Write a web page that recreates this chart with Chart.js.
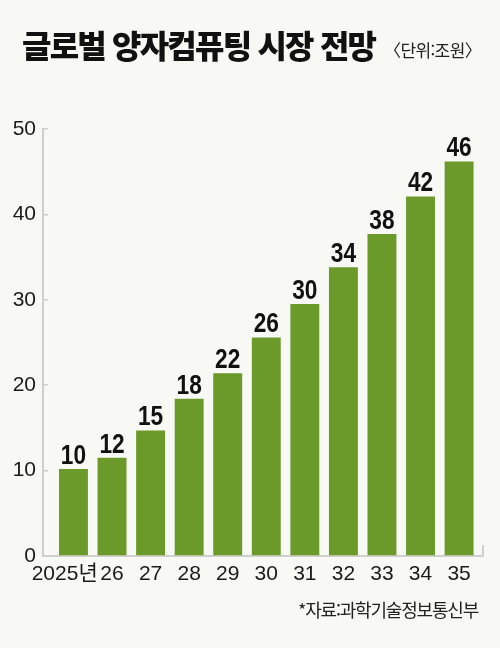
<!DOCTYPE html>
<html lang="ko">
<head>
<meta charset="utf-8">
<script src="https://cdn.jsdelivr.net/npm/chart.js@4"></script>
<style>
  html, body { margin: 0; padding: 0; background: #f8f8f4; }
  #wrap { position: relative; width: 500px; height: 648px; overflow: hidden; }
  #chart { position: absolute; left: 0; top: 0; }
  .title {
    position: absolute; left: 22px; top: 28px;
    font-family: 'Noto Sans CJK KR', sans-serif; font-weight: 900;
    font-size: 32px; line-height: 1; letter-spacing: -1.8px; color: #111;
  }
  .unit {
    position: absolute; left: 384px; top: 41px;
    font-family: 'Noto Sans CJK KR', sans-serif; font-weight: 400;
    font-size: 17px; line-height: 1; letter-spacing: -0.6px; color: #222;
  }
  .source {
    position: absolute; right: 22px; top: 600px;
    font-family: 'Noto Sans CJK KR', sans-serif; font-weight: 400;
    font-size: 18px; line-height: 1; letter-spacing: -1.2px; color: #222;
  }
</style>
</head>
<body>
<div id="wrap">
  <canvas id="chart" width="500" height="648"></canvas>
  <div class="title">글로벌 양자컴퓨팅 시장 전망</div>
  <div class="unit">〈단위:조원〉</div>
  <div class="source">*자료:과학기술정보통신부</div>
</div>
<script>
const years = ['2025년', '26', '27', '28', '29', '30', '31', '32', '33', '34', '35'];
const marketSize = [10.2, 11.5, 14.7, 18.4, 21.4, 25.6, 29.5, 33.8, 37.7, 42.1, 46.2];
const valueLabels = ['10', '12', '15', '18', '22', '26', '30', '34', '38', '42', '46'];
const yTicks = [0, 10, 20, 30, 40, 50];

const tickFont = "'Liberation Sans', 'Noto Sans CJK KR', sans-serif";
const axisGray = '#cfcfcb';

// numbers above bars (squeezed a bit, like the condensed face of the original)
// + the little end tick on the x axis
const barLabels = {
  id: 'barLabels',
  afterDatasetsDraw(chart) {
    const ctx = chart.ctx;
    const meta = chart.getDatasetMeta(0);
    const squeeze = 0.84;
    ctx.save();
    ctx.fillStyle = '#111';
    ctx.font = "bold 27px 'Liberation Sans', sans-serif";
    ctx.textAlign = 'center';
    ctx.textBaseline = 'alphabetic';
    meta.data.forEach((bar, i) => {
      ctx.save();
      ctx.translate(bar.x, bar.y - 5);
      ctx.scale(squeeze, 1);
      ctx.fillText(valueLabels[i], 0, 0);
      ctx.restore();
    });
    ctx.restore();
  },
  afterDraw(chart) {
    const { ctx, chartArea } = chart;
    ctx.save();
    ctx.strokeStyle = axisGray;
    ctx.lineWidth = 2;
    ctx.beginPath();
    ctx.moveTo(chartArea.right, chartArea.bottom);
    ctx.lineTo(chartArea.right, chartArea.bottom - 11);
    ctx.stroke();
    ctx.restore();
  }
};

const data = {
  datasets: [{
    label: '시장 규모',
    data: marketSize.map((v, i) => ({ x: i, y: v })),
    backgroundColor: '#6b9a2b',
    borderWidth: 0,
    barPercentage: 0.75,
    categoryPercentage: 1
  }]
};

const config = {
  type: 'bar',
  data: data,
  options: {
    responsive: false,
    animation: false,
    layout: { padding: { top: 129, right: 17, left: 0, bottom: 0 } },
    plugins: {
      legend: { display: false },
      tooltip: { enabled: false }
    },
    scales: {
      x: {
        type: 'linear',
        offset: false,
        min: -0.79,
        max: 10.62,
        afterBuildTicks: s => { s.ticks = years.map((_, i) => ({ value: i })); },
        afterFit: s => { s.height = 92; },
        grid: { display: false, drawTicks: false },
        border: { display: true, color: axisGray, width: 2 },
        ticks: {
          autoSkip: false,
          maxRotation: 0,
          padding: 6,
          color: '#1a1a1a',
          font: { family: tickFont, size: 21 },
          callback: (v, i) => i === 0 ? years[0] + '   ' : years[i]
        }
      },
      y: {
        min: 0,
        max: 50,
        afterBuildTicks: s => { s.ticks = yTicks.map(v => ({ value: v })); },
        afterFit: s => { s.width = 43; },
        grid: {
          drawOnChartArea: false,
          drawTicks: true,
          tickLength: -5,
          color: axisGray,
          lineWidth: 1.5
        },
        border: { display: true, color: axisGray, width: 2 },
        ticks: {
          padding: 12,
          color: '#1a1a1a',
          font: { family: tickFont, size: 21 }
        }
      }
    }
  },
  plugins: [barLabels]
};

const myChart = new Chart(document.getElementById('chart'), config);
</script>
</body>
</html>
